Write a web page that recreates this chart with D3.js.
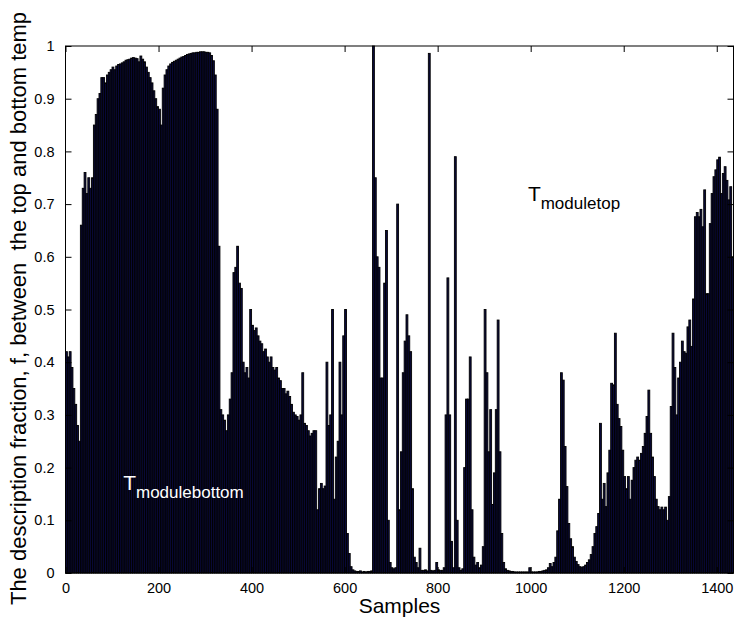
<!DOCTYPE html>
<html>
<head>
<meta charset="utf-8">
<script src="https://cdn.jsdelivr.net/npm/d3@7/dist/d3.min.js"></script>
<style>
  html, body { margin: 0; padding: 0; background: #fff; }
  svg { display: block; }
  text { font-family: "Liberation Sans", Arial, Helvetica, sans-serif; }
</style>
</head>
<body>
<svg id="chart" width="735" height="622"></svg>
<script>
// Description fraction f per block of 4 samples (sample index = block * sampleStep)
const sampleStep = 4;
const sampleCount = 1436;
const fraction = [
  0.42,0.41,0.42,0.39,0.35,0.32,0.28,0.25,0.66,
  0.73,0.76,0.72,0.75,0.73,0.75,
  0.85,0.87,0.90,0.91,0.94,0.94,0.93,0.945,0.95,0.955,
  0.96,0.955,0.962,0.965,0.966,0.968,0.97,0.973,0.974,0.975,
  0.977,0.978,0.977,0.976,0.97,0.981,0.975,0.97,0.96,0.95,
  0.94,0.93,0.915,0.90,0.885,0.88,0.85,0.92,0.945,0.955,
  0.962,0.966,0.969,0.971,0.973,0.975,0.977,0.979,0.98,0.982,
  0.984,0.985,0.986,0.987,0.987,0.988,0.988,0.989,0.989,0.989,
  0.988,0.988,0.987,0.982,0.972,0.945,0.88,0.62,0.31,0.30,
  0.29,0.27,0.30,0.33,0.38,0.57,0.58,0.62,0.55,0.54,
  0.40,0.38,0.39,0.37,0.50,0.47,0.46,0.465,0.45,0.44,
  0.435,0.42,0.425,0.41,0.40,0.41,0.39,0.385,0.39,0.37,
  0.365,0.35,0.35,0.34,0.345,0.335,0.32,0.305,0.30,0.297,
  0.29,0.30,0.38,0.284,0.28,0.27,0.26,0.265,0.27,0.27,
  0.12,0.16,0.17,0.16,0.165,0.40,0.28,0.30,0.50,0.14,
  0.22,0.25,0.40,0.30,0.45,0.50,0.075,0.037,0.012,0.006,
  0.004,0.003,0.003,0.004,0.002,0.003,0.002,0.003,0.003,0.004,
  1.0,0.75,0.60,0.58,0.37,0.37,0.55,0.65,0.10,0.02,
  0.01,0.008,0.01,0.70,0.12,0.23,0.38,0.44,0.49,0.45,
  0.42,0.16,0.03,0.02,0.01,0.047,0.005,0.005,0.006,0.004,
  0.986,0.005,0.004,0.005,0.02,0.006,0.005,0.005,0.01,0.30,
  0.56,0.30,0.06,0.01,0.79,0.10,0.01,0.005,0.008,0.20,
  0.33,0.33,0.41,0.12,0.03,0.015,0.02,0.01,0.015,0.05,
  0.50,0.38,0.23,0.31,0.13,0.19,0.31,0.48,0.23,0.075,
  0.02,0.008,0.005,0.004,0.003,0.003,0.002,0.002,0.002,0.002,
  0.002,0.002,0.002,0.002,0.01,0.002,0.002,0.002,0.002,0.003,
  0.003,0.004,0.005,0.006,0.01,
  0.018,0.012,0.02,0.03,0.08,0.14,0.38,0.366,0.24,0.164,
  0.094,0.065,0.05,0.03,0.022,0.016,0.012,0.011,0.012,0.015,
  0.02,0.025,0.035,0.05,0.075,0.088,0.113,0.284,0.14,0.17,
  0.126,0.19,0.233,0.36,0.357,0.455,0.32,0.293,0.278,0.233,
  0.183,0.16,0.183,0.14,0.176,0.2,0.214,0.22,0.214,0.227,
  0.24,0.265,0.297,0.347,0.265,0.22,0.183,0.14,0.126,0.12,
  0.125,0.12,0.125,0.10,0.145,0.316,0.455,0.39,0.30,0.37,
  0.40,0.44,0.42,0.417,0.467,0.48,0.43,0.52,0.676,0.684,
  0.676,0.69,0.657,0.727,0.53,0.53,0.663,0.72,0.752,0.765,
  0.784,0.789,0.72,0.758,0.771,0.745,0.708,0.733,0.60
];

const xTicks = [0, 200, 400, 600, 800, 1000, 1200, 1400];
const yTicks = [0, 0.1, 0.2, 0.3, 0.4, 0.5, 0.6, 0.7, 0.8, 0.9, 1];

const annotations = [
  { x: 994, y: 0.706, base: "T", sub: "moduletop", color: "#000" },
  { x: 124, y: 0.157, base: "T", sub: "modulebottom", color: "#fff" }
];

const svg = d3.select("#chart");
const plot = { left: 65.5, right: 733.5, top: 46, bottom: 573 };

const x = d3.scaleLinear().domain([0, sampleCount]).range([plot.left, plot.right]);
const y = d3.scaleLinear().domain([0, 1]).range([plot.bottom, plot.top]);

// bars
svg.append("g")
  .selectAll("rect")
  .data(fraction)
  .join("rect")
  .attr("x", (d, i) => x(i * sampleStep))
  .attr("width", x(sampleStep) - x(0))
  .attr("y", d => y(d))
  .attr("height", d => y(0) - y(d))
  .attr("fill", "#0a0a3c")
  .attr("stroke", "#000")
  .attr("stroke-width", 0.9);

// axes (ticks inward on all four sides)
const tickLen = 6;
const axisBottom = d3.axisBottom(x).tickValues(xTicks).tickSizeInner(-tickLen).tickSizeOuter(0).tickPadding(10).tickFormat(d3.format("d"));
const axisTop = d3.axisTop(x).tickValues(xTicks).tickSizeInner(-tickLen).tickSizeOuter(0).tickFormat("");
const axisLeft = d3.axisLeft(y).tickValues(yTicks).tickSizeInner(-tickLen).tickSizeOuter(0).tickPadding(11).tickFormat(d => d === 0 || d === 1 ? String(d) : d3.format(".1f")(d));
const axisRight = d3.axisRight(y).tickValues(yTicks).tickSizeInner(-tickLen).tickSizeOuter(0).tickFormat("");

function styleAxis(g) {
  g.select(".domain").remove();
  g.selectAll("line").attr("stroke", "#000").attr("stroke-width", 1);
  g.selectAll("text").style("font-size", "14.5px").style("fill", "#000");
}

svg.append("g").attr("transform", `translate(0,${plot.bottom})`).call(axisBottom).call(styleAxis);
svg.append("g").attr("transform", `translate(0,${plot.top})`).call(axisTop).call(styleAxis);
svg.append("g").attr("transform", `translate(${plot.left},0)`).call(axisLeft).call(styleAxis);
svg.append("g").attr("transform", `translate(${plot.right},0)`).call(axisRight).call(styleAxis);

// axes box
svg.append("rect")
  .attr("x", plot.left).attr("y", plot.top)
  .attr("width", plot.right - plot.left).attr("height", plot.bottom - plot.top)
  .attr("fill", "none").attr("stroke", "#000").attr("stroke-width", 1);

// axis labels
svg.append("text")
  .attr("x", (plot.left + plot.right) / 2).attr("y", 613)
  .attr("text-anchor", "middle")
  .style("font-size", "21px")
  .style("fill", "#000")
  .text("Samples");

svg.append("text")
  .attr("transform", `translate(26,${(plot.top + plot.bottom) / 2 - 1}) rotate(-90)`)
  .attr("text-anchor", "middle")
  .style("font-size", "22px")
  .style("fill", "#000")
  .style("white-space", "pre")
  .text("The description fraction, f, between  the top and bottom temp");

// subscripted annotations
annotations.forEach(a => {
  const t = svg.append("text")
    .attr("x", x(a.x)).attr("y", y(a.y))
    .style("fill", a.color);
  t.append("tspan").style("font-size", "21px").text(a.base);
  t.append("tspan").attr("dy", 8).style("font-size", "17px").text(a.sub);
});
</script>
</body>
</html>
